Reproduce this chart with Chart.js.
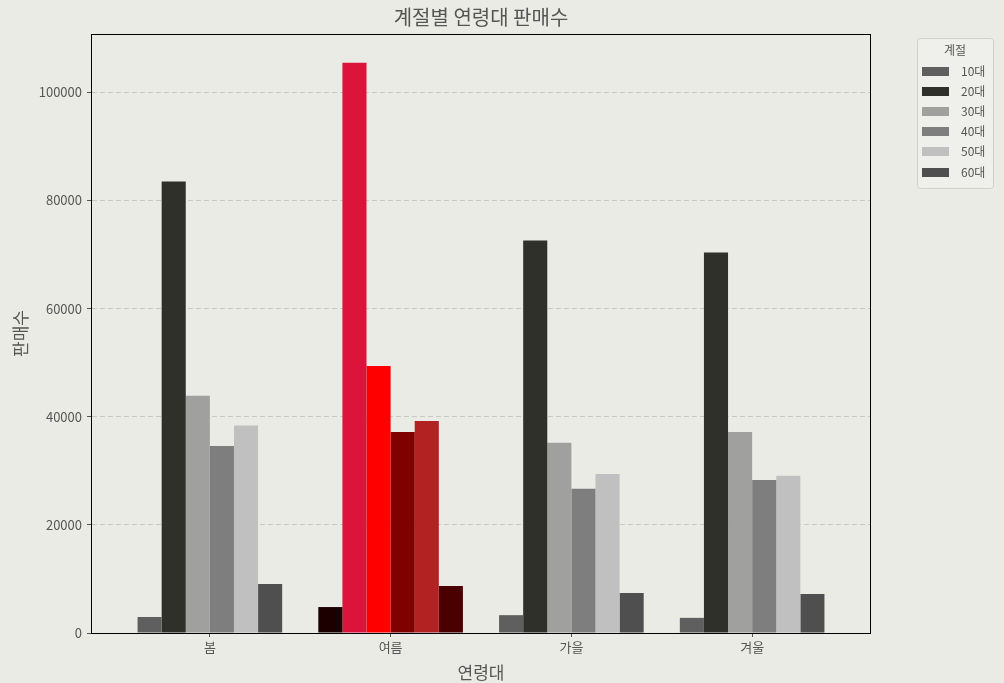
<!DOCTYPE html>
<html>
<head>
<meta charset="utf-8">
<script src="https://cdn.jsdelivr.net/npm/chart.js@4"></script>
<style>
  body { margin: 0; background: #ebebe6; }
  #wrap { width: 1004px; height: 683px; }
</style>
</head>
<body>
<div id="wrap"><canvas id="chart" width="1004" height="683"></canvas></div>
<script>
// 데이터
const seasons = ['봄', '여름', '가을', '겨울'];
const ageGroups = ['10대', '20대', '30대', '40대', '50대', '60대'];
const sales10 = [2960, 4800, 3300, 2800];
const sales20 = [83500, 105500, 72600, 70400];
const sales30 = [43900, 49400, 35200, 37200];
const sales40 = [34600, 37200, 26700, 28300];
const sales50 = [38400, 39200, 29400, 29100];
const sales60 = [9050, 8700, 7400, 7200];
const yTicks = [0, 20000, 40000, 60000, 80000, 100000];

const grayColors = ['#5f5f5f', '#30302b', '#a0a09e', '#7e7e7e', '#c0c0c0', '#4f4f4f'];
const summerColors = ['#1c0000', '#dc143c', '#ff0000', '#800000', '#b22222', '#4a0000'];
const allSales = [sales10, sales20, sales30, sales40, sales50, sales60];

const datasets = ageGroups.map((age, i) => ({
    label: age,
    data: allSales[i].map((v, j) => ({ x: j, y: v })),
    backgroundColor: seasons.map((s, j) => j === 1 ? summerColors[i] : grayColors[i]),
    borderWidth: 0,
    categoryPercentage: 0.8,
    barPercentage: 1.0
}));

const textColor = '#555555';
const fontFamily = '"Noto Sans CJK KR", "Noto Sans", sans-serif';

// 축 테두리 + 범례 (그래프 오른쪽 바깥)
const framePlugin = {
    id: 'frame',
    afterDraw(chart) {
        const ctx = chart.ctx;
        const a = chart.chartArea;
        ctx.save();
        ctx.strokeStyle = '#000';
        ctx.lineWidth = 1;
        ctx.strokeRect(a.left - 0.5, a.top + 0.5, a.right - a.left + 1, a.bottom - a.top);

        const lx = a.right + 47, ly = a.top + 4;
        const lw = 76, lh = 150;
        ctx.fillStyle = 'rgba(240,240,236,0.8)';
        ctx.strokeStyle = '#d0d0cc';
        ctx.beginPath();
        ctx.roundRect(lx + 0.5, ly + 0.5, lw, lh, 3);
        ctx.fill();
        ctx.stroke();

        ctx.font = '12px ' + fontFamily;
        ctx.fillStyle = textColor;
        ctx.textAlign = 'center';
        ctx.textBaseline = 'middle';
        ctx.fillText('계절', lx + lw / 2, ly + 12);
        ctx.textAlign = 'left';
        ageGroups.forEach((age, i) => {
            const cy = ly + 33 + i * 20.2;
            ctx.fillStyle = grayColors[i];
            ctx.fillRect(lx + 5, Math.round(cy - 4.5), 27, 9);
            ctx.fillStyle = textColor;
            ctx.fillText(age, lx + 44, cy);
        });
        ctx.restore();
    }
};

new Chart(document.getElementById('chart'), {
    type: 'bar',
    data: { datasets: datasets },
    options: {
        responsive: false,
        animation: false,
        layout: { padding: { left: 0, right: 134, top: 0, bottom: 0 } },
        plugins: {
            title: {
                display: true,
                text: '계절별 연령대 판매수',
                color: textColor,
                fullSize: false,
                font: { family: fontFamily, size: 20, weight: 'normal' },
                padding: { top: 5, bottom: 5 }
            },
            legend: { display: false },
            tooltip: { enabled: false }
        },
        scales: {
            x: {
                type: 'linear',
                min: -0.652,
                max: 3.652,
                offset: false,
                afterFit(scale) { scale.height = 50; },
                ticks: {
                    stepSize: 1,
                    includeBounds: false,
                    autoSkip: false,
                    maxRotation: 0,
                    color: textColor,
                    font: { family: fontFamily, size: 13 },
                    padding: 2,
                    callback: (v) => Number.isInteger(v) ? seasons[v] : ''
                },
                grid: {
                    drawOnChartArea: false,
                    drawTicks: true,
                    tickLength: 4,
                    tickColor: '#555',
                    offset: false
                },
                border: { display: false },
                title: {
                    display: true,
                    text: '연령대',
                    color: textColor,
                    font: { family: fontFamily, size: 17 },
                    padding: { top: 0, bottom: 0 }
                }
            },
            y: {
                min: 0,
                max: 110800,
                afterFit(scale) { scale.width = 92; },
                afterBuildTicks(scale) { scale.ticks = yTicks.map(v => ({ value: v })); },
                ticks: {
                    color: textColor,
                    font: { family: fontFamily, size: 13 },
                    padding: 5,
                    callback: (v) => String(v)
                },
                grid: {
                    color: '#c8c8c4',
                    drawTicks: true,
                    tickLength: 5,
                    tickColor: '#555',
                    tickBorderDash: [],
                    lineWidth: 1
                },
                border: { display: false, dash: [5, 3] },
                title: {
                    display: true,
                    text: '판매수',
                    color: textColor,
                    font: { family: fontFamily, size: 17 },
                    padding: { top: 10, bottom: 4 }
                }
            }
        }
    },
    plugins: [framePlugin]
});
</script>
</body>
</html>
